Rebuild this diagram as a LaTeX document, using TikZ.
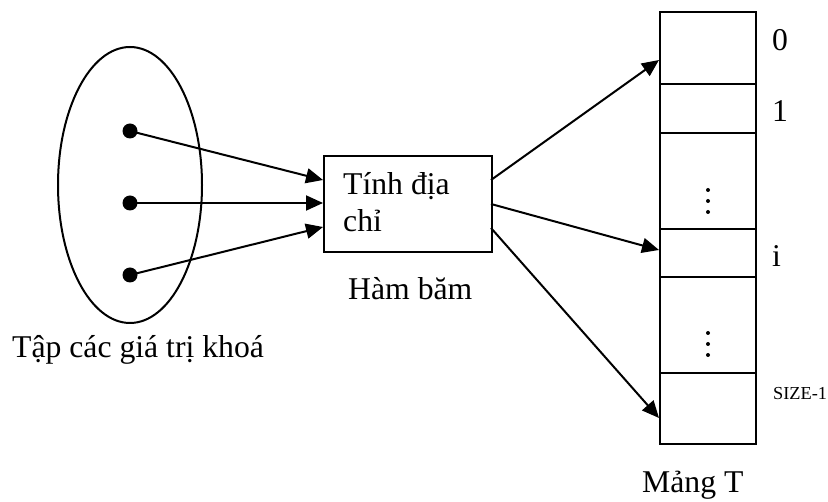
\documentclass[tikz,border=0pt]{standalone}
\usepackage{fontspec}
\setmainfont{Liberation Serif}
\usetikzlibrary{arrows.meta,shapes.geometric}
\begin{document}
\begin{tikzpicture}[x=1pt,y=-1pt,
  lw/.style={line width=2pt},
  arr/.style={lw,-{Triangle[length=17pt,width=15pt]}},
  lbl/.style={anchor=base west,inner sep=0pt,font=\fontsize{31.7}{37}\selectfont},
  small/.style={anchor=base west,inner sep=0pt,font=\fontsize{18.3}{22}\selectfont},
  keydot/.style={circle,fill=black,inner sep=0pt,minimum size=15pt},
  cell/.style={draw,lw,rectangle,inner sep=0pt,minimum width=96pt,anchor=north west}
]
\useasboundingbox (0,0) rectangle (828,502);
% set of keys
\node[draw,lw,ellipse,minimum width=144pt,minimum height=276pt,inner sep=0pt] (set) at (130,185) {};
\node[keydot] (k1) at (130,131) {};
\node[keydot] (k2) at (130,203) {};
\node[keydot] (k3) at (130,275) {};
\node[lbl] (setlbl) at (12,358) {Tập các giá trị khoá};
% hash box
\node[draw,lw,rectangle,minimum width=168pt,minimum height=96pt,inner sep=0pt,anchor=north west] (box) at (323,155) {};
\node[lbl] (t1) at (343,195) {Tính địa};
\node[lbl] (t2) at (343,232) {chỉ};
\node[lbl] (hl) at (348,300) {Hàm băm};
% array
\node[cell,minimum height=72pt] (c0) at (659,11) {};
\node[cell,minimum height=49pt] (c1) at (659,83) {};
\node[cell,minimum height=96pt] (c2) at (659,132) {};
\node[cell,minimum height=48pt] (ci) at (659,228) {};
\node[cell,minimum height=96pt] (c4) at (659,276) {};
\node[cell,minimum height=71pt] (cs) at (659,372) {};
\foreach \y in {190,201,212,333,344,355} \fill (708,\y) circle (2pt);
\node[lbl] (l0) at (772,51) {0};
\node[lbl] (l1) at (772,122) {1};
\node[lbl] (li) at (772,267) {i};
\node[small] (ls) at (773,400) {SIZE-1};
\node[lbl] (lm) at (642,493) {Mảng T};
% connectors
\coordinate (b1) at (323,180);
\coordinate (b2) at (323,203);
\coordinate (b3) at (323,227);
\coordinate (o1) at (491,180);
\coordinate (o2) at (491,204);
\coordinate (o3) at (491,228);
\coordinate (e0) at (659,60);
\coordinate (ei) at (659,250);
\coordinate (es) at (659,418);
\draw[arr] (k1.center) -- (b1);
\draw[arr] (k2.center) -- (b2);
\draw[arr] (k3.center) -- (b3);
\draw[arr] (o1) -- (e0);
\draw[arr] (o2) -- (ei);
\draw[arr] (o3) -- (es);
\end{tikzpicture}
\end{document}
